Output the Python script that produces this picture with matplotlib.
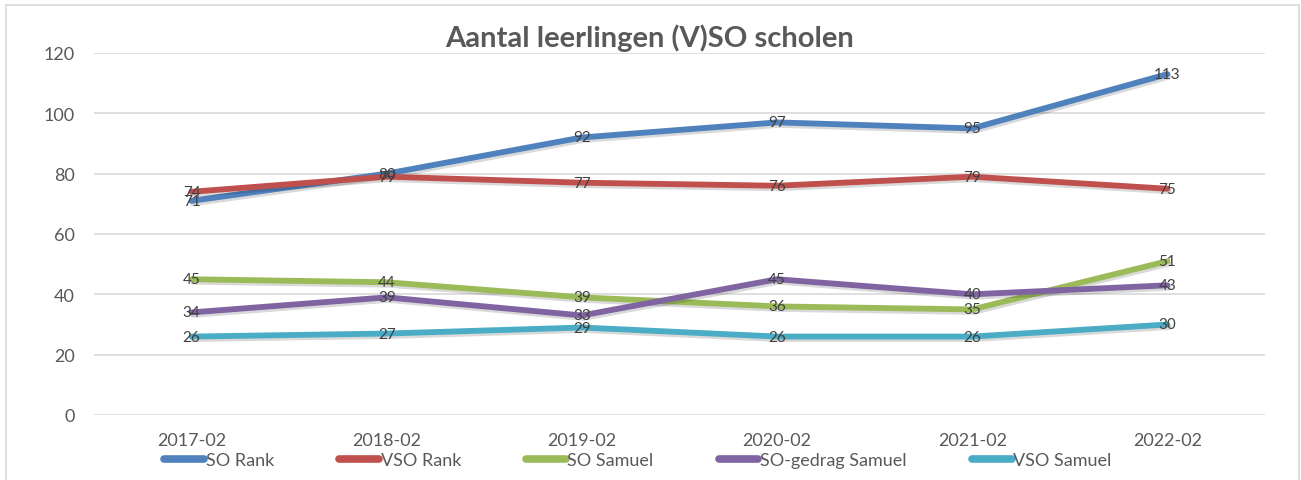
import matplotlib
matplotlib.use('Agg')
import matplotlib.pyplot as plt
import matplotlib.patheffects as pe
from matplotlib.patches import Rectangle

# Data
periods = ['2017-02', '2018-02', '2019-02', '2020-02', '2021-02', '2022-02']
so_rank = [71, 80, 92, 97, 95, 113]
vso_rank = [74, 79, 77, 76, 79, 75]
so_samuel = [45, 44, 39, 36, 35, 51]
so_gedrag_samuel = [34, 39, 33, 45, 40, 43]
vso_samuel = [26, 27, 29, 26, 26, 30]

series_names = ['SO Rank', 'VSO Rank', 'SO Samuel', 'SO-gedrag Samuel', 'VSO Samuel']
series_values = [so_rank, vso_rank, so_samuel, so_gedrag_samuel, vso_samuel]
colors = ['#4F81BD', '#C0504D', '#9BBB59', '#8064A2', '#4BACC6']

plt.rcParams['font.family'] = ['Lato', 'DejaVu Sans']
TEXT = '#595959'

fig = plt.figure(figsize=(13.01, 4.81), dpi=100)
fig.patches.append(Rectangle((6 / 1301, -0.01), 1293 / 1301, 1.0 - 6 / 481 + 0.01,
                             transform=fig.transFigure, fill=False,
                             edgecolor='#d9d9d9', linewidth=1.2))

ax = fig.add_axes([94 / 1301, 65 / 481, 1171 / 1301, 362 / 481])
x = list(range(len(periods)))

shadow = [pe.SimpleLineShadow(offset=(1, -1.8), alpha=0.15, shadow_color='black'),
          pe.Normal()]
for name, vals, col in zip(series_names, series_values, colors):
    ax.plot(x, vals, color=col, linewidth=4.2, solid_capstyle='round',
            solid_joinstyle='round', label=name, path_effects=shadow, zorder=3)

for vals in series_values:
    for xi, v in zip(x, vals):
        ax.text(xi, v, str(v), ha='center', va='center', fontsize=11,
                color='#404040', zorder=5)

ax.set_xlim(-0.5, len(periods) - 0.5)
ax.set_ylim(0, 120)
ax.set_yticks(range(0, 121, 20))
ax.set_xticks(x)
ax.set_xticklabels(periods)
ax.tick_params(axis='both', length=0, labelsize=13, labelcolor=TEXT)
ax.tick_params(axis='y', pad=14)
ax.tick_params(axis='x', pad=12)
ax.grid(axis='y', color='#d9d9d9', linewidth=1.2)
ax.set_axisbelow(True)
for s in ax.spines.values():
    s.set_visible(False)

fig.text(650 / 1301, 1 - 38 / 481, 'Aantal leerlingen (V)SO scholen', ha='center', va='center',
         fontsize=21, fontweight='bold', color=TEXT)

leg = fig.legend(loc='center', bbox_to_anchor=(638 / 1301, 20 / 481), ncol=5,
                 frameon=False, fontsize=13, handlelength=2.2, handletextpad=0.1,
                 columnspacing=3.6, labelcolor=TEXT)
for h in leg.get_lines():
    h.set_linewidth(5.5)
    h.set_solid_capstyle('round')
    h.set_path_effects([])

fig.savefig('out.png', dpi=100)
